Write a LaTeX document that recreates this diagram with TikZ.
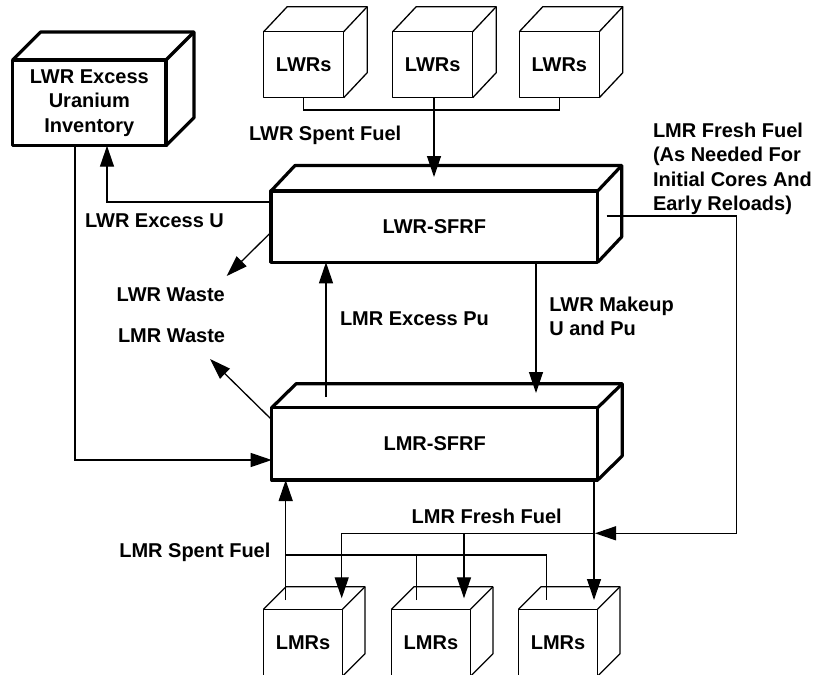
\documentclass[tikz,border=0pt]{standalone}
\usepackage{fontspec}
\setmainfont{Liberation Sans}
\usetikzlibrary{arrows.meta,calc}
\tikzset{
  txt/.style={font=\bfseries\fontsize{20}{24.5}\selectfont},
  lbl/.style={txt, inner sep=0pt, outer sep=0pt},
  heavy/.style={line width=3.2pt, line join=round},
  light/.style={line width=1.3pt, line join=round},
  bigbox/.style={draw, heavy, txt, align=center, inner sep=0pt, outer sep=0pt},
  smallbox/.style={draw, light, txt, align=center, inner sep=0pt, outer sep=0pt},
  conn/.style={line width=1.3pt},
  arr/.style={conn, -{Triangle[length=21pt,width=14pt]}},
}
\newcommand\cubedepth[4]{%
  \draw[#4] (#1.north west) -- ++(#2,-#3) -| ($(#1.south east)+(#2,-#3)$) -- (#1.south east);
  \draw[#4] (#1.north east) -- ++(#2,-#3);
}
\begin{document}
\begin{tikzpicture}[x=1pt,y=-1pt]
\useasboundingbox (0,0) rectangle (815,675);
\clip (0,0) rectangle (815,675);

% boxes
\node[bigbox, minimum width=153.3pt, minimum height=85.7pt] (exc) at (89.35,102.85) {LWR Excess\\Uranium\\Inventory};
\cubedepth{exc}{28}{28}{heavy}

\node[smallbox, minimum width=80pt, minimum height=66pt] (lwr1) at (303.7,64.7) {LWRs};
\node[smallbox, minimum width=80pt, minimum height=66pt] (lwr2) at (432.7,64.7) {LWRs};
\node[smallbox, minimum width=80pt, minimum height=66pt] (lwr3) at (559.3,64.7) {LWRs};
\cubedepth{lwr1}{23.5}{25}{light}
\cubedepth{lwr2}{23.5}{25}{light}
\cubedepth{lwr3}{23.5}{25}{light}

\node[bigbox, minimum width=326.7pt, minimum height=71.3pt] (lwrsfrf) at (434.35,226.65) {LWR-SFRF};
\cubedepth{lwrsfrf}{24}{25.5}{heavy}

\node[bigbox, minimum width=326pt, minimum height=72.3pt] (lmrsfrf) at (434.7,443.85) {LMR-SFRF};
\cubedepth{lmrsfrf}{24.5}{24}{heavy}

\node[smallbox, minimum width=79pt, minimum height=67pt] (lmr1) at (303,642.8) {LMRs};
\node[smallbox, minimum width=79pt, minimum height=67pt] (lmr2) at (430.9,642.8) {LMRs};
\node[smallbox, minimum width=79pt, minimum height=67pt] (lmr3) at (558,642.8) {LMRs};
\cubedepth{lmr1}{22.5}{22.5}{light}
\cubedepth{lmr2}{22.5}{22.5}{light}
\cubedepth{lmr3}{22.5}{22.5}{light}

% coordinates
\coordinate (lwrin) at (434,177);
\coordinate (exUturn) at (107,202);
\coordinate (invturn) at (75,460);
\coordinate (lwrwaste) at (226.7,276);
\coordinate (lmrwaste) at (210,359);
\coordinate (puout) at (326,397);
\coordinate (mkin) at (536,393);
\coordinate (ffout) at (606.7,216);
\coordinate (ffcorner) at (736.7,533.3);
\coordinate (ffjoin) at (595,533.3);
\coordinate (ff1) at (341.7,598.3);
\coordinate (ff2) at (464,598.3);
\coordinate (ff3) at (594,600);
\coordinate (sp1) at (285.7,600);
\coordinate (sp2) at (416.7,600);
\coordinate (sp3) at (546.7,600);
\coordinate (spbus) at (285.7,555);

% connectors
\draw[conn] (lwr1.south) -- ++(0,12.3) -| (lwr3.south);
\draw[arr] (lwrin |- lwr2.south) -- (lwrin);
\draw[arr] (exUturn -| lwrsfrf.west) -- (exUturn) -- (exUturn |- exc.south);
\draw[arr] (invturn |- exc.south) -- (invturn) -- (invturn -| lmrsfrf.west);
\draw[arr] ($(lwrsfrf.south west)+(0,-30)$) -- (lwrwaste);
\draw[arr] ($(lmrsfrf.north west)+(0,12)$) -- (lmrwaste);
\draw[arr] (puout) -- (puout |- lwrsfrf.south);
\draw[arr] (mkin |- lwrsfrf.south) -- (mkin);
\draw[arr] (ffout) -| (ffcorner) -- (ffjoin);
\draw[arr] (ffjoin) -| (ff1);
\draw[arr] (ff2 |- ffjoin) -- (ff2);
\draw[arr] (ff3 |- lmrsfrf.south) -- (ff3);
\draw[arr] (sp1) -- (sp1 |- lmrsfrf.south);
\draw[conn] (spbus) -| (sp3);
\draw[conn] (sp2) -- (sp2 |- spbus);

% labels
\node[lbl, anchor=base west] (tspent) at (249,140.7) {LWR Spent Fuel};
\node[lbl, anchor=base west] (texu) at (85,227) {LWR Excess U};
\node[lbl, anchor=base west] (tlwrw) at (116.7,301.7) {LWR Waste};
\node[lbl, anchor=base west] (tlmrw) at (118,342.7) {LMR Waste};
\node[lbl, anchor=base west] (tpu) at (340,325) {LMR Excess Pu};
\node[lbl, anchor=north west, align=left] (tmk) at (549.3,296.6) {LWR Makeup\\U and Pu};
\node[lbl, anchor=north west, align=left] (tff) at (653,122.6) {LMR Fresh Fuel\\(As Needed For\\Initial Cores And\\Early Reloads)};
\node[lbl, anchor=base west] (tff2) at (411.7,523.3) {LMR Fresh Fuel};
\node[lbl, anchor=base west] (tlmrsp) at (119.3,557.7) {LMR Spent Fuel};
\end{tikzpicture}
\end{document}
